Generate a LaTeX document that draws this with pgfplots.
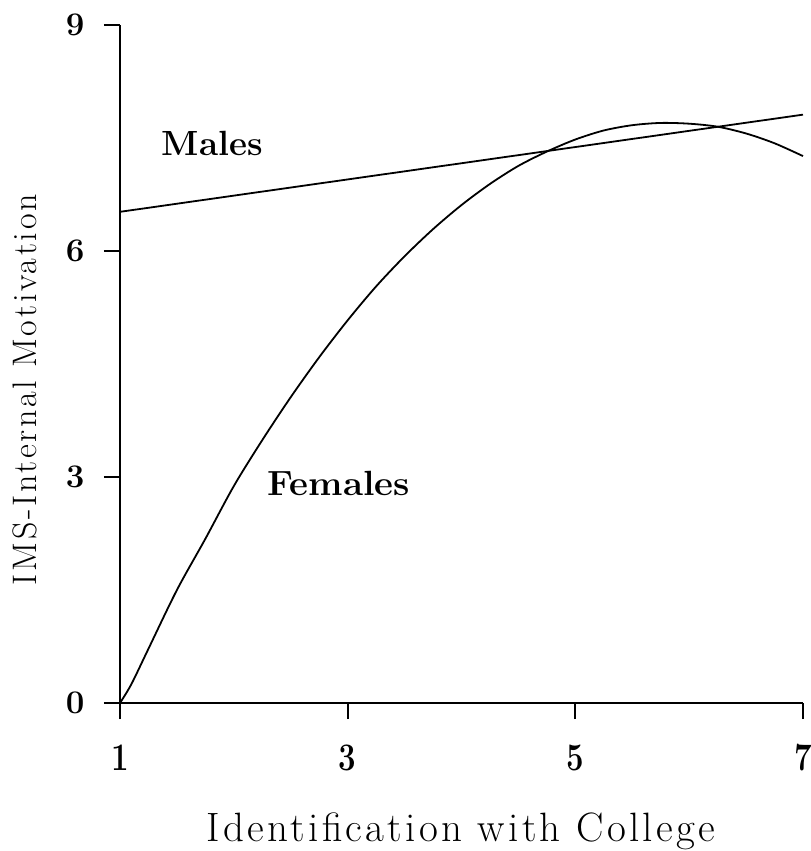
\documentclass[border=0pt]{standalone}
\usepackage{fontspec}
\setmainfont{Latin Modern Roman}
\newfontfamily\spfont[LetterSpace=8]{Latin Modern Roman}
\usepackage{graphicx}
\usepackage{pgfplots}
\pgfplotsset{compat=1.18}
\newcommand\ytickfont{\fontsize{33bp}{36bp}\selectfont\bfseries}
\newcommand\xtickfont{\fontsize{39bp}{42bp}\selectfont\bfseries}
\newcommand\lblfont{\fontsize{35bp}{40bp}\selectfont\bfseries}
\begin{document}
\begin{tikzpicture}
\begin{axis}[
  name=ax,
  scale only axis,
  width=683bp, height=678bp,
  xmin=1, xmax=7, ymin=0, ymax=9,
  xtick={1,3,5,7}, ytick={0,3,6,9},
  axis x line*=bottom, axis y line*=left,
  axis line style={line width=1.8bp},
  tick align=outside,
  major tick length=16bp,
  tick style={line width=1.8bp, black},
  /pgf/number format/assume math mode=true,
  xticklabel={\scalebox{0.8}[1]{\xtickfont\pgfmathprintnumber{\tick}}},
  yticklabel={\ytickfont\pgfmathprintnumber{\tick}},
  xticklabel style={yshift=-22bp},
  yticklabel style={xshift=-16bp},
  clip=false,
  every axis x label/.style={at={(axis description cs:0.499,-0.205)}, anchor=base},
  every axis y label/.style={at={(axis description cs:-0.139,0.462)}, rotate=90, anchor=center},
  xlabel={\fontsize{41bp}{46bp}\spfont Identification with College},
  ylabel={\fontsize{34bp}{40bp}\spfont IMS-Internal Motivation},
]
\addplot[black, line width=1.8bp] coordinates {(1,6.52) (7,7.81)};
\addplot[black, line width=1.8bp, smooth] coordinates {
(1,0) (1.1,0.25) (1.25,0.72) (1.5,1.50) (1.75,2.18) (2,2.88)
(2.25,3.49) (2.5,4.06) (2.75,4.59) (3,5.08) (3.25,5.53) (3.5,5.93)
(3.75,6.29) (4,6.61) (4.25,6.89) (4.5,7.13) (4.75,7.32) (5,7.48)
(5.25,7.60) (5.5,7.67) (5.75,7.70) (6,7.69) (6.25,7.65) (6.5,7.56)
(6.75,7.43) (7,7.26)};
\node at (axis cs:1.81,7.43) {\lblfont Males};
\node at (axis cs:2.92,2.91) {\scalebox{1.05}[1]{\lblfont Females}};
\end{axis}
\pgfresetboundingbox
\path[use as bounding box] (ax.south west) ++(-120bp,-148bp) rectangle ++(811bp,851bp);
\end{tikzpicture}
\end{document}
